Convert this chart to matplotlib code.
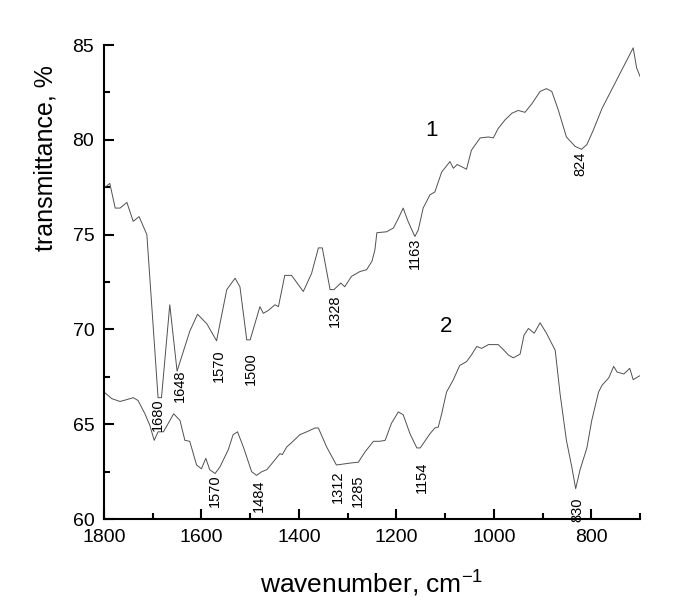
import numpy as np
import matplotlib
matplotlib.use('Agg')
import matplotlib.pyplot as plt
from matplotlib.ticker import MultipleLocator

plt.rcParams['font.family'] = ['Liberation Sans', 'DejaVu Sans']
plt.rcParams['mathtext.fontset'] = 'custom'
plt.rcParams['mathtext.rm'] = 'Liberation Sans'

# curve 1 (upper spectrum)
wn1 = [1800, 1788, 1777, 1767, 1753, 1740, 1728, 1712, 1689, 1682, 1665, 1650,
       1624, 1608, 1589, 1569, 1548, 1531, 1521, 1507, 1500, 1480, 1473, 1463,
       1449, 1442, 1429, 1415, 1391, 1374, 1360, 1352, 1336, 1328, 1314, 1306,
       1292, 1275, 1261, 1250, 1244, 1240, 1220, 1206, 1196, 1186, 1176, 1162,
       1155, 1145, 1131, 1121, 1107, 1090, 1083, 1075, 1056, 1046, 1028, 1011,
       1001, 991, 977, 963, 950, 936, 922, 905, 892, 881, 868, 851, 833, 820,
       809, 796, 778, 758, 737, 714, 707, 700]
t1 = [77.45, 77.7, 76.4, 76.4, 76.7, 75.7, 75.95, 75.0, 66.4, 66.4, 71.3, 67.8,
      69.9, 70.8, 70.3, 69.4, 72.1, 72.7, 72.25, 69.45, 69.45, 71.2, 70.85, 71.0,
      71.3, 71.2, 72.85, 72.85, 72.0, 72.95, 74.3, 74.3, 72.1, 72.1, 72.45, 72.25,
      72.8, 73.05, 73.15, 73.6, 74.2, 75.1, 75.15, 75.35, 75.85, 76.4, 75.7, 74.9,
      75.25, 76.4, 77.1, 77.25, 78.3, 78.85, 78.5, 78.7, 78.45, 79.45, 80.1, 80.15,
      80.1, 80.6, 81.05, 81.4, 81.55, 81.45, 81.9, 82.55, 82.7, 82.55, 81.6, 80.15,
      79.65, 79.5, 79.75, 80.5, 81.65, 82.65, 83.7, 84.85, 83.8, 83.35]

# curve 2 (lower spectrum)
wn2 = [1800, 1784, 1767, 1753, 1740, 1730, 1716, 1706, 1697, 1689, 1678, 1668,
       1657, 1644, 1634, 1624, 1610, 1600, 1591, 1583, 1572, 1562, 1545, 1535,
       1526, 1514, 1497, 1487, 1476, 1466, 1453, 1439, 1434, 1425, 1412, 1398,
       1384, 1367, 1360, 1343, 1323, 1309, 1295, 1278, 1264, 1247, 1234, 1223,
       1210, 1196, 1186, 1172, 1158, 1151, 1131, 1121, 1114, 1107, 1097, 1083,
       1070, 1056, 1046, 1035, 1025, 1011, 1001, 991, 981, 970, 960, 946, 938,
       929, 917, 905, 892, 874, 864, 851, 840, 832, 823, 809, 799, 785, 778,
       764, 754, 747, 733, 721, 714, 701]
t2 = [66.7, 66.35, 66.2, 66.3, 66.4, 66.25, 65.55, 64.95, 64.15, 64.6, 64.6, 65.05,
      65.55, 65.2, 64.15, 64.1, 62.85, 62.65, 63.2, 62.6, 62.4, 62.75, 63.65, 64.45,
      64.6, 63.8, 62.5, 62.3, 62.5, 62.6, 63.0, 63.45, 63.4, 63.8, 64.1, 64.45,
      64.6, 64.8, 64.8, 63.8, 62.85, 62.9, 62.95, 63.0, 63.55, 64.1, 64.1, 64.15,
      65.05, 65.65, 65.5, 64.5, 63.75, 63.75, 64.5, 64.8, 64.85, 65.55, 66.7, 67.35,
      68.1, 68.3, 68.65, 69.1, 69.0, 69.2, 69.2, 69.2, 68.95, 68.65, 68.5, 68.7, 69.7,
      70.05, 69.8, 70.35, 69.8, 68.9, 66.6, 64.15, 62.75, 61.6, 62.6, 63.75, 65.2, 66.7,
      67.05, 67.45, 68.05, 67.75, 67.65, 67.95, 67.35, 67.55]

# peak labels: text, x, y
peaks1 = [('1680', 1689, 65.5), ('1648', 1645, 67.05), ('1570', 1565, 68.1),
          ('1500', 1499, 67.95), ('1328', 1326, 71.0), ('1163', 1162, 74.0),
          ('824', 823, 78.75)]
peaks2 = [('1570', 1572, 61.5), ('1484', 1482, 61.25), ('1312', 1319, 61.7),
          ('1285', 1279, 61.5), ('1154', 1148, 62.2), ('830', 828, 60.5)]

fig = plt.figure(figsize=(6.85, 6.05), dpi=100)
ax = fig.add_axes([0.1518, 0.1421, 0.7825, 0.7835])

ax.plot(wn1, t1, color='#505050', lw=0.7)
ax.plot(wn2, t2, color='#505050', lw=0.7)

for txt, x, y in peaks1 + peaks2:
    ax.text(x, y, txt, rotation=90, ha='center', va='center', fontsize=10.5)

ax.text(1127, 80.5, '1', ha='center', va='center', fontsize=16)
ax.text(1097, 70.15, '2', ha='center', va='center', fontsize=16)

ax.set_xlim(1800, 700)
ax.set_ylim(60, 85)
ax.xaxis.set_major_locator(MultipleLocator(200))
ax.xaxis.set_minor_locator(MultipleLocator(100))
ax.yaxis.set_major_locator(MultipleLocator(5))
ax.yaxis.set_minor_locator(MultipleLocator(2.5))

for s in ['top', 'right']:
    ax.spines[s].set_visible(False)
for s in ['left', 'bottom']:
    ax.spines[s].set_linewidth(1.5)

ax.tick_params(which='major', direction='in', length=7.5, width=1.5,
               labelsize=14, pad=7)
ax.tick_params(which='minor', direction='in', length=4, width=1.5)

ax.set_xlabel('wavenumber, cm$^{\\mathrm{-1}}$', fontsize=19, va='center')
ax.xaxis.set_label_coords(0.5, -0.133)
ax.set_ylabel('transmittance, %', fontsize=18, va='center')
ax.yaxis.set_label_coords(-0.11, 0.762)

fig.savefig('out.png', dpi=100)
